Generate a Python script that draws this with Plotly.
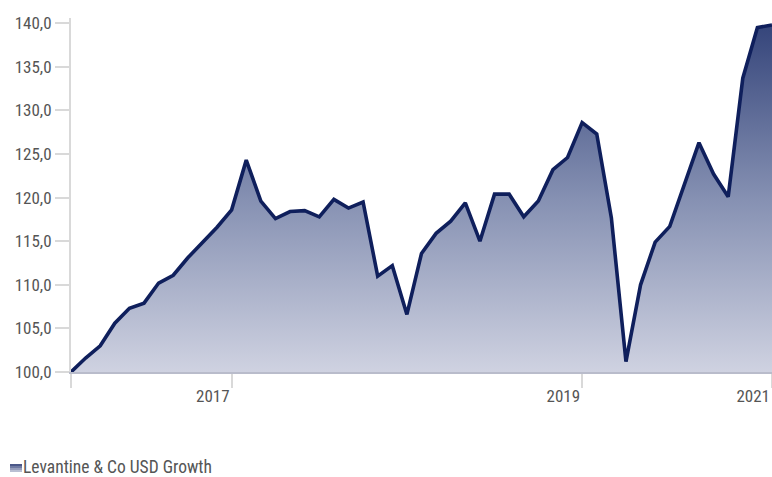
import plotly.graph_objects as go

values = [100.0, 101.6, 103.0, 105.6, 107.3, 107.9, 110.2, 111.1, 113.1, 114.8,
          116.6, 118.6, 124.3, 119.6, 117.6, 118.4, 118.5, 117.8, 119.8, 118.8,
          119.5, 111.0, 112.2, 106.6, 113.6, 115.9, 117.3, 119.4, 115.0, 120.4,
          120.4, 117.8, 119.6, 123.2, 124.6, 128.6, 127.3, 117.7, 101.2, 110.0,
          114.9, 116.7, 121.5, 126.3, 122.7, 120.1, 133.7, 139.5, 139.8]
periods = list(range(len(values)))
tick_positions = [0, 11, 35, 48]
tick_labels = ["", "2017", "2019", "2021"]
y_ticks = [100, 105, 110, 115, 120, 125, 130, 135, 140]
series_name = "Levantine & Co USD Growth"

FONT = "Liberation Sans Narrow, Roboto Condensed, Arial Narrow, Roboto, sans-serif"

W, H = 772, 477
L, T, B = 71, 18, 105
plot_w = W - L
plot_h = H - T - B


def px_x(px):
    return (px - L) / plot_w


def px_y(py):
    return (H - B - py) / plot_h


fig = go.Figure()
fig.add_trace(go.Scatter(
    x=periods, y=values, mode="lines", name=series_name, showlegend=False,
    line=dict(color="#0f1f5c", width=3.6),
    fill="tozeroy",
    fillgradient=dict(type="vertical", start=100, stop=140,
                      colorscale=[[0, "#cfd2e1"], [0.5, "#8590b2"], [1, "#34447a"]]),
))

# legend key (gradient swatch + label)
sw = [("#4a5788", 464, 466), ("#6f7aa2", 466, 468), ("#959dbb", 468, 470), ("#b9bfd3", 470, 472)]
for col, y0, y1 in sw:
    fig.add_shape(type="rect", xref="paper", yref="paper",
                  x0=px_x(10), x1=px_x(22), y0=px_y(y1), y1=px_y(y0),
                  fillcolor=col, line=dict(width=0), layer="above")
fig.add_annotation(xref="paper", yref="paper", x=px_x(22), y=px_y(467),
                   xanchor="left", yanchor="middle", showarrow=False, borderpad=0,
                   text=series_name, font=dict(size=17.5, color="#555555"))

fig.update_layout(
    width=W, height=H,
    margin=dict(l=L, r=0, t=T, b=B),
    paper_bgcolor="white", plot_bgcolor="white",
    separators=",.",
    font=dict(family=FONT, size=16, color="#555555"),
    xaxis=dict(range=[0, 48], tickmode="array", tickvals=tick_positions, ticktext=tick_labels,
               ticks="outside", ticklen=14, tickcolor="#d9d9d9", tickwidth=2,
               ticklabelposition="outside left", ticklabelstandoff=8,
               showgrid=False, zeroline=False, showline=True, linecolor="#b9bccb", linewidth=2,
               tickfont=dict(size=17, color="#555555")),
    yaxis=dict(range=[100, 140.6], tickmode="array", tickvals=y_ticks,
               tickformat=".1f", ticks="outside", ticklen=14, tickcolor="#d9d9d9", tickwidth=2,
               showgrid=False, zeroline=False, showline=True, linecolor="#d9d9d9", linewidth=2,
               tickfont=dict(size=17, color="#555555")),
)

fig.write_html(
    "out.html",
    config={"displayModeBar": False},
    post_script="document.body.style.margin='0';document.body.style.overflow='hidden';",
)
